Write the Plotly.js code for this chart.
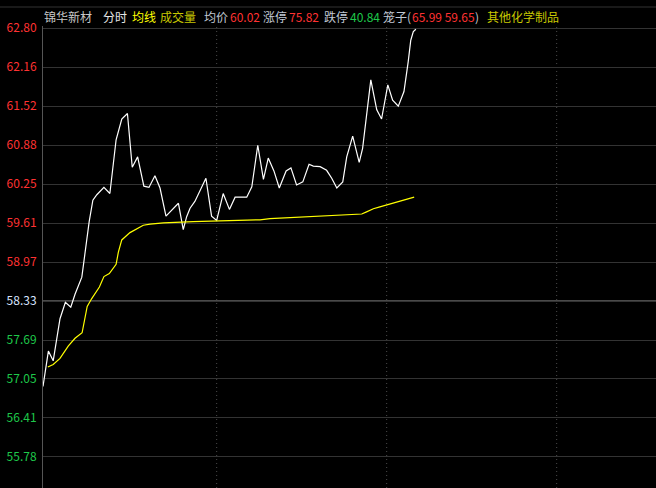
<!DOCTYPE html>
<html>
<head>
<meta charset="utf-8">
<script src="https://cdn.plot.ly/plotly-3.0.1.min.js"></script>
<style>html,body{margin:0;padding:0;background:#000;}#chart{width:656px;height:488px;}</style>
</head>
<body>
<div id="chart"></div>
<script>
// minutes since open (approx) and prices
const priceMinutes = [0,1.9,3.6,4.8,6.0,7.9,9.8,11.3,13.7,14.5,16.3,17.6,19.0,21.5,23.6,25.8,27.8,29.8,31.5,33.4,35.6,37.4,39.5,41.3,43.4,47.8,49.5,50.7,51.9,53.6,57.5,59.5,61.3,63.6,65.8,67.8,71.9,73.7,75.8,77.8,79.5,81.5,83.4,85.8,87.5,89.5,91.7,93.9,95.4,97.8,100.1,101.9,103.7,105.8,107.2,109.3,111.6,112.8,114.0,115.7,117.8,119.5,121.7,123.4,125.4,127.4,128.9,129.8,130.7,131.6];
const priceValues = [56.93,57.51,57.35,57.69,58.04,58.31,58.23,58.44,58.72,59.00,59.63,59.98,60.07,60.19,60.09,60.97,61.31,61.40,60.52,60.69,60.21,60.19,60.38,60.18,59.72,59.93,59.50,59.71,59.85,59.96,60.34,59.72,59.65,60.09,59.83,60.03,60.03,60.20,60.88,60.32,60.67,60.46,60.18,60.46,60.51,60.23,60.28,60.57,60.54,60.53,60.47,60.34,60.18,60.28,60.69,61.03,60.60,60.83,61.32,61.95,61.46,61.31,61.87,61.62,61.52,61.76,62.25,62.60,62.74,62.78];
const avgMinutes = [1.7,3.6,6.0,8.9,11.3,13.8,15.6,17.2,19.9,21.5,23.4,25.8,26.6,27.8,30.7,33.3,35.4,37.8,42.5,53.0,62.5,76.6,80.1,88.9,96.6,100.7,108.4,112.5,114.2,116.6,118.9,121.3,126.0,128.4,131.0];
const avgValues = [57.25,57.29,57.39,57.59,57.72,57.81,58.24,58.37,58.56,58.73,58.78,58.93,59.13,59.33,59.45,59.52,59.57,59.59,59.61,59.63,59.645,59.66,59.68,59.70,59.72,59.73,59.75,59.755,59.79,59.84,59.87,59.90,59.97,60.00,60.03];

const prevClose = 58.33;
const tickValues = [62.80,62.1614,61.5229,60.8843,60.2457,59.6071,58.9686,58.33,57.6914,57.0529,56.4143,55.7757];
const tickLabels = ["62.80","62.16","61.52","60.88","60.25","59.61","58.97","58.33","57.69","57.05","56.41","55.78"];
const hourMarks = [61.3,121.3,181.3];

const headerTexts = ["锦华新材","分时","均线","成交量","均价","60.02","涨停","75.82","跌停","40.84","笼子(","65.99 59.65",")","其他化学制品"];
const headerColors = ["#c8c8c8","#e6e6e6","#ffff00","#c8c800","#c0c8d4","#ff3232","#c0c8d4","#ff3232","#c0c8d4","#1ec84a","#c0c8d4","#ff3232","#c0c8d4","#c8c800"];
const headerX = [43,102,131,159,203,229,262,288,323,349,382,411,474,486];

const L = 43, T = 26, W = 656 - L, H = 488 - T;
const px = x => (x - L) / W;
const py = y => 1 - (y - T) / H;

const red = "#ff3232", green = "#1ec84a", mid = "#d8e4ff";
const coloredTicks = tickLabels.map((t, i) => {
  const c = tickValues[i] > prevClose + 1e-6 ? red : (tickValues[i] < prevClose - 1e-6 ? green : mid);
  return '<span style="fill:' + c + '">' + t + '</span>';
});

const traces = [
  {x: priceMinutes, y: priceValues, type: 'scatter', mode: 'lines', line: {color: '#ffffff', width: 1.2}, hoverinfo: 'skip'},
  {x: avgMinutes, y: avgValues, type: 'scatter', mode: 'lines', line: {color: '#ffff00', width: 1.2}, hoverinfo: 'skip'}
];

const shapes = [
  {type: 'line', xref: 'paper', yref: 'y', x0: 0, x1: 1, y0: prevClose, y1: prevClose, line: {color: '#4a4a4a', width: 2}, layer: 'below'},
  {type: 'line', xref: 'paper', yref: 'paper', x0: px(0), x1: 1, y0: py(7), y1: py(7), line: {color: '#333333', width: 1}}
];
hourMarks.forEach(m => shapes.push({type: 'line', xref: 'x', yref: 'paper', x0: m, x1: m, y0: 0, y1: 1, line: {color: '#4c4c4c', width: 1, dash: '1px,3px'}, layer: 'below'}));

const annotations = headerTexts.map((t, i) => ({
  text: t, xref: 'paper', yref: 'paper', x: px(headerX[i]) , y: py(16.5), xanchor: 'left', yanchor: 'middle',
  showarrow: false, borderpad: 0, font: {family: '"Noto Sans CJK SC", "Noto Sans", sans-serif', size: 12, color: headerColors[i]}
}));

const layout = {
  width: 656, height: 488,
  paper_bgcolor: '#000000', plot_bgcolor: '#000000',
  margin: {l: L, r: 0, t: T, b: 0, pad: 0},
  showlegend: false,
  xaxis: {range: [0, W * 60 / 170], showgrid: false, zeroline: false, showticklabels: false, ticks: '', fixedrange: true},
  yaxis: {range: [55.268, 62.833], tickvals: tickValues, ticktext: coloredTicks, showgrid: true, gridcolor: '#333333', gridwidth: 1,
          zeroline: false, showline: true, linecolor: '#555555', linewidth: 1, ticks: '', ticklabelstandoff: 3,
          tickfont: {family: '"Noto Sans CJK SC", "Noto Sans", sans-serif', size: 12, color: red}},
  shapes: shapes,
  annotations: annotations
};

Plotly.newPlot('chart', traces, layout, {displayModeBar: false, staticPlot: true});
</script>
</body>
</html>
